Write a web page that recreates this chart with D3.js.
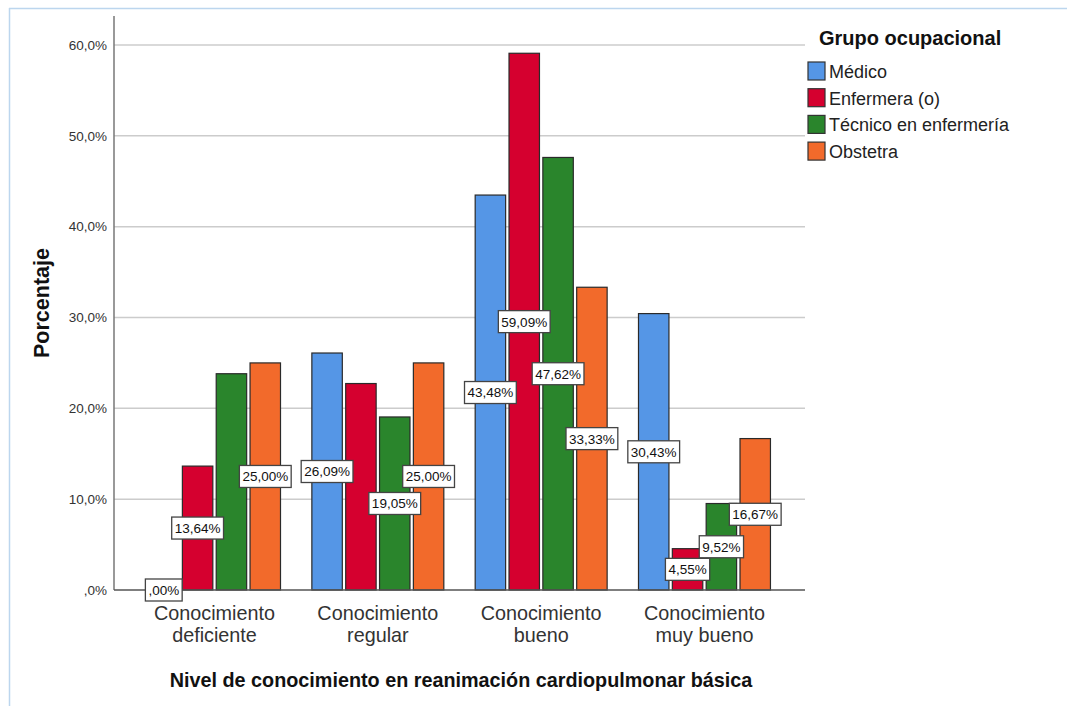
<!DOCTYPE html>
<html>
<head>
<meta charset="utf-8">
<script src="https://cdn.jsdelivr.net/npm/d3@7"></script>
<style>
  body { margin: 0; background: #fff; }
  svg { display: block; font-family: Arial, "Liberation Sans", sans-serif; }
</style>
</head>
<body>
<svg id="chart" width="1067" height="706"></svg>
<script>
// categories on the x axis (two lines each)
const categories = ["Conocimiento deficiente", "Conocimiento regular", "Conocimiento bueno", "Conocimiento muy bueno"];
const categoryLines = [["Conocimiento", "deficiente"], ["Conocimiento", "regular"], ["Conocimiento", "bueno"], ["Conocimiento", "muy bueno"]];

const groups = ["Médico", "Enfermera (o)", "Técnico en enfermería", "Obstetra"];
const colors = ["#5596e6", "#d5002f", "#2a852c", "#f26a2b"];

// percentages per group, in category order
const medico = [0, 26.09, 43.48, 30.43];
const enfermera = [13.64, 22.73, 59.09, 4.55];
const tecnico = [23.81, 19.05, 47.62, 9.52];
const obstetra = [25.00, 25.00, 33.33, 16.67];
// which bars carry a value label
const showLabel = [
  [true, true, true, true],
  [true, false, true, true],
  [false, true, true, true],
  [true, true, true, true]
];

const yTicks = [0, 10, 20, 30, 40, 50, 60];

const seriesValues = [medico, enfermera, tecnico, obstetra];
const fmtTick = v => (v === 0 ? "" : String(v)) + ",0%";
const fmtLabel = v => v === 0 ? ",00%" : v.toFixed(2).replace(".", ",") + "%";

const svg = d3.select("#chart");

// frame
svg.append("line").attr("x1", 9).attr("x2", 1067).attr("y1", 8.5).attr("y2", 8.5)
  .attr("stroke", "#bcd6ee").attr("stroke-width", 1.5);
svg.append("line").attr("x1", 9.5).attr("x2", 9.5).attr("y1", 8).attr("y2", 706)
  .attr("stroke", "#bcd6ee").attr("stroke-width", 1.5);

const plotLeft = 114, plotRight = 805, plotTop = 16, plotBottom = 590;

const y = d3.scaleLinear().domain([0, 60]).range([plotBottom, 45]);
const x0 = d3.scaleBand().domain(categories).range([plotLeft, plotRight])
  .paddingInner(0.192).paddingOuter(0.2115);
const x1 = d3.scaleBand().domain(groups).range([0, x0.bandwidth()]).paddingInner(0.1);

// gridlines
svg.append("g").selectAll("line")
  .data(yTicks.filter(t => t > 0))
  .join("line")
  .attr("x1", plotLeft).attr("x2", plotRight)
  .attr("y1", d => y(d)).attr("y2", d => y(d))
  .attr("stroke", "#cccccc").attr("stroke-width", 1.5);

// y axis
const yAxis = svg.append("g").attr("transform", `translate(${plotLeft},0)`)
  .call(d3.axisLeft(y).tickValues(yTicks).tickFormat(fmtTick).tickSize(0).tickPadding(7));
yAxis.select(".domain").remove();
yAxis.selectAll("text").attr("font-size", 13.5).attr("fill", "#333")
  .attr("font-family", "Arial, 'Liberation Sans', sans-serif");
svg.append("line").attr("x1", plotLeft).attr("x2", plotLeft).attr("y1", plotTop).attr("y2", plotBottom)
  .attr("stroke", "#777").attr("stroke-width", 1.5);

// bars
const rows = [];
categories.forEach((c, ci) => {
  groups.forEach((g, gi) => {
    rows.push({ c, g, gi, ci, v: seriesValues[gi][ci], lab: showLabel[gi][ci] });
  });
});

svg.append("g").selectAll("rect")
  .data(rows.filter(d => d.v > 0))
  .join("rect")
  .attr("x", d => x0(d.c) + x1(d.g))
  .attr("y", d => y(d.v))
  .attr("width", x1.bandwidth())
  .attr("height", d => plotBottom - y(d.v))
  .attr("fill", d => colors[d.gi])
  .attr("stroke", "#2a2a2a").attr("stroke-width", 1.2);

// x baseline
svg.append("line").attr("x1", plotLeft).attr("x2", plotRight).attr("y1", plotBottom).attr("y2", plotBottom)
  .attr("stroke", "#555").attr("stroke-width", 1.5);

// value labels
const labs = svg.append("g").selectAll("g")
  .data(rows.filter(d => d.lab))
  .join("g")
  .attr("transform", d => `translate(${x0(d.c) + x1(d.g) + x1.bandwidth() / 2},${y(d.v / 2)})`);
labs.append("text")
  .attr("text-anchor", "middle").attr("dy", "0.36em")
  .attr("font-size", 13.5).attr("fill", "#111")
  .text(d => fmtLabel(d.v));
labs.each(function () {
  const g = d3.select(this);
  const bb = g.select("text").node().getBBox();
  g.insert("rect", "text")
    .attr("x", bb.x - 3).attr("y", -11)
    .attr("width", bb.width + 6).attr("height", 22)
    .attr("fill", "#fff").attr("stroke", "#444").attr("stroke-width", 1.3);
});

// category labels
const catG = svg.append("g").selectAll("text")
  .data(categories)
  .join("text")
  .attr("text-anchor", "middle")
  .attr("font-size", 19.8).attr("fill", "#333")
  .attr("x", d => x0(d) + x0.bandwidth() / 2)
  .attr("y", 620);
catG.selectAll("tspan")
  .data((d, i) => categoryLines[i].map(l => ({ l, x: x0(d) + x0.bandwidth() / 2 })))
  .join("tspan")
  .attr("x", d => d.x)
  .attr("dy", (d, i) => i === 0 ? 0 : 22)
  .text(d => d.l);

// axis titles
svg.append("text")
  .attr("x", 461).attr("y", 687).attr("text-anchor", "middle")
  .attr("font-size", 19.8).attr("font-weight", "bold").attr("fill", "#111")
  .text("Nivel de conocimiento en reanimación cardiopulmonar básica");
svg.append("text")
  .attr("transform", "translate(49,303) rotate(-90)")
  .attr("text-anchor", "middle")
  .attr("font-size", 21.5).attr("font-weight", "bold").attr("fill", "#111")
  .text("Porcentaje");

// legend
const legend = svg.append("g").attr("transform", "translate(808,0)");
legend.append("text").attr("x", 11).attr("y", 45)
  .attr("font-size", 20).attr("font-weight", "bold").attr("fill", "#111")
  .text("Grupo ocupacional");
const items = legend.selectAll("g.item").data(groups).join("g")
  .attr("class", "item")
  .attr("transform", (d, i) => `translate(0,${62 + i * 26.7})`);
items.append("rect").attr("width", 17).attr("height", 18)
  .attr("fill", (d, i) => colors[i]).attr("stroke", "#333").attr("stroke-width", 1.2);
items.append("text").attr("x", 21).attr("y", 16)
  .attr("font-size", 18).attr("fill", "#222")
  .text(d => d);
</script>
</body>
</html>
